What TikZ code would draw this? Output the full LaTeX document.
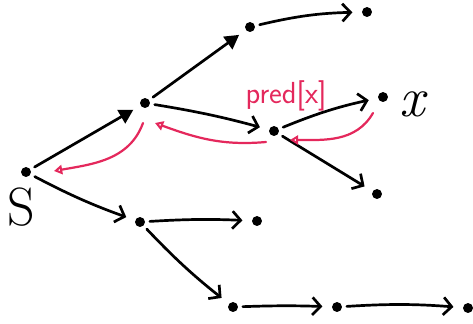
\documentclass[tikz,border=0pt]{standalone}
\usepackage{tikz}
\usetikzlibrary{arrows.meta, positioning}
\definecolor{predred}{RGB}{228, 40, 92}

\begin{document}
\begin{tikzpicture}[x=0.03cm, y=-0.03cm,
  vtx/.style={circle, fill=black, inner sep=0pt, minimum size=8.5pt},
  edge/.style={-{Straight Barb[length=7pt, width=15pt]}, line width=2.3pt, line cap=round, shorten >=8pt, shorten <=4pt},
  fedge/.style={-{Triangle[length=12pt, width=13pt]}, line width=2.3pt, line cap=round, shorten >=7pt, shorten <=4pt},
  predge/.style={-{Triangle[open, length=7pt, width=8pt]}, predred, line width=1.9pt, line cap=round}
]
  \useasboundingbox (0,0) rectangle (473,323);
  % vertices
  \node[vtx] (s) at (26,172) {};
  \node[vtx] (a) at (145,103) {};
  \node[vtx] (b) at (250,27) {};
  \node[vtx] (c) at (367,12) {};
  \node[vtx] (p) at (274,131) {};
  \node[vtx] (x) at (383,97) {};
  \node[vtx] (d) at (377,194) {};
  \node[vtx] (e) at (140,222) {};
  \node[vtx] (f) at (257,221) {};
  \node[vtx] (g) at (233,307) {};
  \node[vtx] (h) at (337,307) {};
  \node[vtx] (i) at (468,308) {};
  % labels
  \node[font=\fontsize{46}{46}\selectfont] (slabel) at (21,207) {S};
  \node[font=\itshape\fontsize{48}{48}\selectfont] (xlabel) at (412,104) {x};
  \node[font=\sffamily\fontsize{26}{26}\selectfont, text=predred] (predlabel) at (286,96) {pred[x]};
  % edges
  \draw[fedge] (s) -- (a);
  \draw[fedge] (a) -- (b);
  \draw[edge] (b) to[bend left=6] (c);
  \draw[edge] (a) to[bend left=3] (p);
  \draw[edge] (p) to[bend left=5] (x);
  \draw[edge] (p) -- (d);
  \draw[edge] (s) to[bend right=4] (e);
  \draw[edge] (e) to[bend left=3] (f);
  \draw[edge] (e) to[bend right=4] (g);
  \draw[edge] (g) to[bend left=2] (h);
  \draw[edge] (h) to[bend left=4] (i);
  % predecessor pointers
  \draw[predge] ([shift={(-10,16)}]x.center) to[out=240, in=0] ([shift={(16,9)}]p.center);
  \draw[predge] ([shift={(-8,11)}]p.center) to[out=185, in=-20] ([shift={(10,20)}]a.center);
  \draw[predge] ([shift={(-2,20)}]a.center) to[out=250, in=10] ([shift={(28,-1)}]s.center);
\end{tikzpicture}
\end{document}
